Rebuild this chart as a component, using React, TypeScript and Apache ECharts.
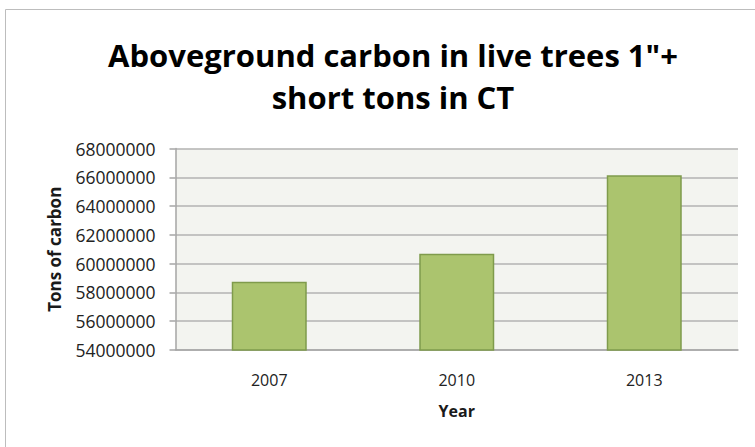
import React, { useEffect, useRef } from "react";
import * as echarts from "echarts";

const years = ["2007", "2010", "2013"];
const carbonTons = [58740000, 60680000, 66150000];
const yTicks = { min: 54000000, max: 68000000, step: 2000000 };
const titleText = "Aboveground carbon in live trees 1\"+\nshort tons in CT";
const yAxisTitle = "Tons of carbon";
const xAxisTitle = "Year";

export default function App() {
  const ref = useRef<HTMLDivElement>(null);
  useEffect(() => {
    if (!ref.current) return;
    const chart = echarts.init(ref.current, null, { renderer: "svg" });
    chart.setOption({
      animation: false,
      backgroundColor: "#ffffff",
      title: {
        text: titleText,
        left: 388,
        top: 29,
        textAlign: "center",
        textStyle: {
          fontFamily: "Open Sans",
          fontWeight: "bold",
          fontSize: 31,
          lineHeight: 42,
          color: "#000000",
        },
      },
      graphic: [
        {
          type: "rect",
          shape: { x: 5.5, y: 9.5, width: 800, height: 500 },
          style: { fill: "none", stroke: "#bdbdbd", lineWidth: 1 },
          silent: true,
        },
      ],
      grid: {
        left: 175.5,
        top: 148.5,
        right: 17,
        bottom: 97,
        show: true,
        backgroundColor: "#f3f4f0",
        borderWidth: 0,
      },
      xAxis: {
        type: "category",
        data: years,
        name: xAxisTitle,
        nameLocation: "middle",
        nameGap: 53,
        nameTextStyle: { fontFamily: "Open Sans", fontWeight: "bold", fontSize: 16, color: "#1a1a1a" },
        axisLine: { lineStyle: { color: "#a6a6a6", width: 1.5 } },
        axisTick: { show: false },
        axisLabel: { fontFamily: "Open Sans", fontSize: 16, color: "#222222", margin: 22 },
      },
      yAxis: {
        type: "value",
        min: yTicks.min,
        max: yTicks.max,
        interval: yTicks.step,
        name: yAxisTitle,
        nameLocation: "middle",
        nameGap: 113,
        nameTextStyle: { fontFamily: "Open Sans", fontWeight: "bold", fontSize: 17, color: "#1a1a1a" },
        axisLine: { show: true, lineStyle: { color: "#a6a6a6", width: 1.5 } },
        axisTick: { show: true, length: 6, lineStyle: { color: "#a6a6a6", width: 1.5 } },
        axisLabel: {
          fontFamily: "Open Sans",
          fontSize: 17.5,
          color: "#222222",
          margin: 20,
          formatter: (v: number) => String(Math.round(v)),
        },
        splitLine: { lineStyle: { color: "#b3b3b3", width: 1.5 } },
      },
      series: [
        {
          type: "bar",
          data: carbonTons,
          barWidth: "40%",
          itemStyle: { color: "#abc46e", borderColor: "#7f9b4c", borderWidth: 1.5 },
        },
      ],
    });
    return () => chart.dispose();
  }, []);
  return (
    <div
      ref={ref}
      style={{ position: "fixed", left: 0, top: 0, width: 755, height: 447 }}
    />
  );
}
